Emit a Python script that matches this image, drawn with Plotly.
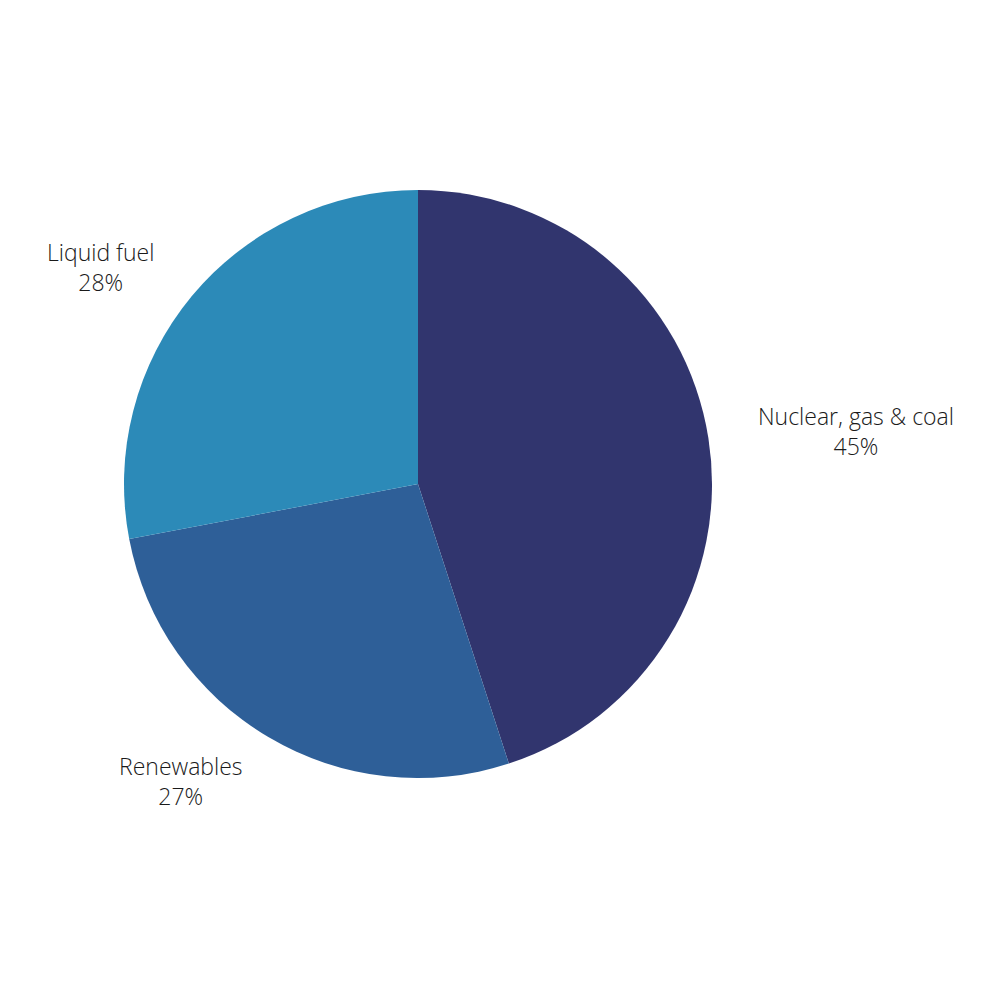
import plotly.graph_objects as go

labels = ["Nuclear, gas & coal", "Renewables", "Liquid fuel"]
values = [45, 27, 28]
colors = ["#31356E", "#2E5F98", "#2C8AB8"]

# label anchor points (paper coords) for the outside labels
label_pos = {
    "Nuclear, gas & coal": (0.848, 0.577),
    "Renewables": (0.173, 0.227),
    "Liquid fuel": (0.092, 0.741),
}

fig = go.Figure(
    go.Pie(
        labels=labels,
        values=values,
        sort=False,
        direction="clockwise",
        rotation=0,
        marker=dict(colors=colors, line=dict(width=0)),
        textinfo="none",
        hoverinfo="label+percent",
        showlegend=False,
        domain=dict(x=[0.116, 0.704], y=[0.230, 0.818]),
    )
)

total = sum(values)
annotations = []
for lab, val in zip(labels, values):
    x, y = label_pos[lab]
    annotations.append(
        dict(
            x=x,
            y=y,
            xref="paper",
            yref="paper",
            text=f"{lab}<br>{round(val / total * 100)}%",
            showarrow=False,
            align="center",
            xanchor="center",
            yanchor="middle",
            font=dict(family="Open Sans", size=23, color="#1a1a1a", weight=300),
        )
    )

fig.update_layout(
    width=1000,
    height=1000,
    margin=dict(l=0, r=0, t=0, b=0),
    paper_bgcolor="white",
    plot_bgcolor="white",
    annotations=annotations,
)

fig.write_html("out.html")
